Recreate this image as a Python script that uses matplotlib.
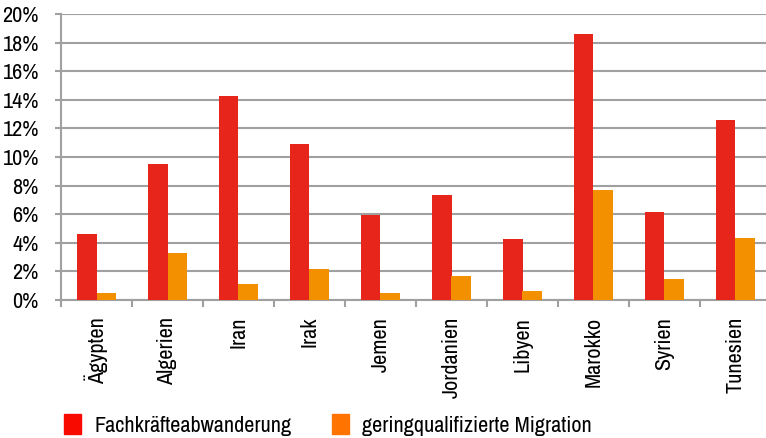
import numpy as np
import matplotlib.pyplot as plt
from matplotlib.patches import Patch

plt.rcParams['font.family'] = ['Archivo Narrow', 'Barlow Condensed', 'DejaVu Sans']
plt.rcParams['font.stretch'] = 'condensed'

laender = ['Ägypten', 'Algerien', 'Iran', 'Irak', 'Jemen', 'Jordanien',
           'Libyen', 'Marokko', 'Syrien', 'Tunesien']
fachkraefte = [4.6, 9.5, 14.3, 10.9, 5.95, 7.35, 4.3, 18.6, 6.15, 12.6]
gering = [0.5, 3.3, 1.1, 2.2, 0.5, 1.7, 0.65, 7.7, 1.5, 4.35]

rot = '#E8251A'
orange = '#F39000'
grau = '#A0A0A0'

fig = plt.figure(figsize=(7.66, 4.38), dpi=100)
ax = fig.add_axes([61/766, 138/438, 710/766, 286/438])

x = np.arange(len(laender))
w = 0.28
ax.bar(x - w/2, fachkraefte, w, color=rot, zorder=3)
ax.bar(x + w/2, gering, w, color=orange, zorder=3)

ax.set_xlim(-0.5, len(laender) - 0.5)
ax.set_ylim(0, 20)
ax.set_yticks(np.arange(0, 21, 2))
ax.set_yticklabels([f'{v}%' for v in range(0, 21, 2)], fontsize=16)
ax.yaxis.grid(True, color=grau, linewidth=1.5, zorder=0)

# Striche an den Kategoriegrenzen, Namen in der Mitte
ax.set_xticks(np.arange(-0.5, len(laender), 1))
ax.set_xticklabels([])
ax.set_xticks(x, minor=True)
ax.set_xticklabels(laender, minor=True, rotation=90, fontsize=16)
ax.tick_params(axis='x', which='major', length=5, width=1.5, color=grau)
ax.tick_params(axis='x', which='minor', length=0, pad=12)
ax.tick_params(axis='y', length=4, width=1.5, color=grau, pad=12)

for s in ['top', 'right']:
    ax.spines[s].set_visible(False)
for s in ['left', 'bottom']:
    ax.spines[s].set_color(grau)
    ax.spines[s].set_linewidth(1.5)

handles = [Patch(color='#F80A00', label='Fachkräfteabwanderung'),
           Patch(color='#FF7400', label='geringqualifizierte Migration')]
fig.legend(handles=handles, loc='center left', bbox_to_anchor=(44/766, 1 - 425/438),
           ncol=2, frameon=False, fontsize=16, handlelength=0.75, handleheight=1.0,
           columnspacing=1.85, handletextpad=0.6)

fig.savefig('out.png', dpi=100)
